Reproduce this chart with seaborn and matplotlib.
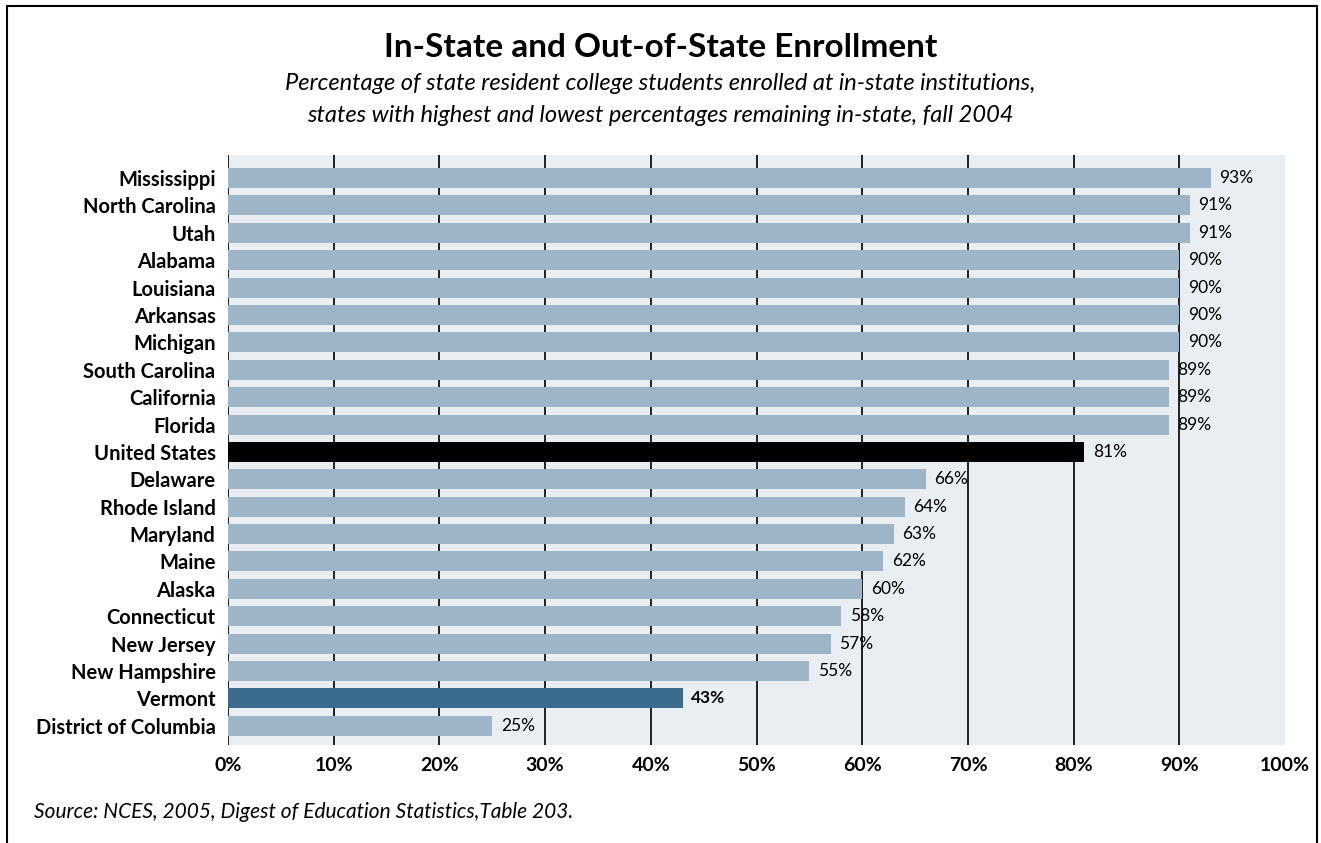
import matplotlib
matplotlib.use("Agg")
import matplotlib.pyplot as plt
import seaborn as sns
import pandas as pd

states = ["Mississippi", "North Carolina", "Utah", "Alabama", "Louisiana", "Arkansas",
          "Michigan", "South Carolina", "California", "Florida", "United States",
          "Delaware", "Rhode Island", "Maryland", "Maine", "Alaska", "Connecticut",
          "New Jersey", "New Hampshire", "Vermont", "District of Columbia"]
values = [93, 91, 91, 90, 90, 90, 90, 89, 89, 89, 81, 66, 64, 63, 62, 60, 58, 57, 55, 43, 25]
xticks = [0, 10, 20, 30, 40, 50, 60, 70, 80, 90, 100]
xtick_labels = ["0%", "10%", "20%", "30%", "40%", "50%", "60%", "70%", "80%", "90%", "100%"]

light = "#9eb4c7"
colors = {s: light for s in states}
colors["United States"] = "#000000"
colors["Vermont"] = "#3a6b8c"

df = pd.DataFrame({"state": states, "value": values})

sns.set_theme(style="white")
plt.rcParams["font.family"] = ["Lato", "DejaVu Sans"]
plt.rcParams["text.color"] = "black"
plt.rcParams["xtick.color"] = "black"
plt.rcParams["ytick.color"] = "black"

fig = plt.figure(figsize=(13.21, 8.43), dpi=100)
ax = fig.add_axes([0.1726, 0.1163, 0.8002, 0.6998])
ax.set_facecolor("#e9eef2")

sns.barplot(data=df, y="state", x="value", hue="state", palette=colors,
            order=states, hue_order=states, legend=False, width=0.73,
            saturation=1, ax=ax, zorder=3, edgecolor="none", orient="h")

ax.set_xlim(0, 100)
ax.set_ylim(20.7, -0.84)
for xv in xticks[:-1]:
    ax.axvline(xv, color="#111111", lw=1.3, zorder=2)

for sp in ax.spines.values():
    sp.set_visible(False)

ax.set_xticks(xticks)
ax.set_xticklabels(xtick_labels, fontsize=14, fontweight="bold", color="black")
ax.tick_params(axis="x", length=0, pad=9)
ax.tick_params(axis="y", length=0, pad=9)
for lbl in ax.get_yticklabels():
    lbl.set_fontsize(14.5)
    lbl.set_fontweight("bold")
    lbl.set_color("black")
ax.set_xlabel("")
ax.set_ylabel("")

for i, (s, v) in enumerate(zip(states, values)):
    bold = s == "Vermont"
    ax.text(v + 0.8, i, f"{v}%", va="center", ha="left", fontsize=12.5,
            fontweight="bold" if bold else "normal", color="black", zorder=4)

fig.text(0.5, 0.944, "In-State and Out-of-State Enrollment", ha="center", va="center",
         fontsize=24, fontweight="bold")
fig.text(0.5, 0.901, "Percentage of state resident college students enrolled at in-state institutions,",
         ha="center", va="center", fontsize=17, style="italic")
fig.text(0.5, 0.863, "states with highest and lowest percentages remaining in-state, fall 2004",
         ha="center", va="center", fontsize=17, style="italic")
fig.text(0.026, 0.037, "Source: NCES, 2005, Digest of Education Statistics,Table 203.",
         ha="left", va="center", fontsize=15, style="italic")

# frame border
fig.add_artist(plt.Line2D([0.0053, 0.0053], [0.0, 0.993], color="black", lw=1.5, transform=fig.transFigure))
fig.add_artist(plt.Line2D([0.997, 0.997], [0.0, 0.993], color="black", lw=1.5, transform=fig.transFigure))
fig.add_artist(plt.Line2D([0.0053, 0.997], [0.993, 0.993], color="black", lw=1.5, transform=fig.transFigure))

fig.savefig("out.png", dpi=100)
